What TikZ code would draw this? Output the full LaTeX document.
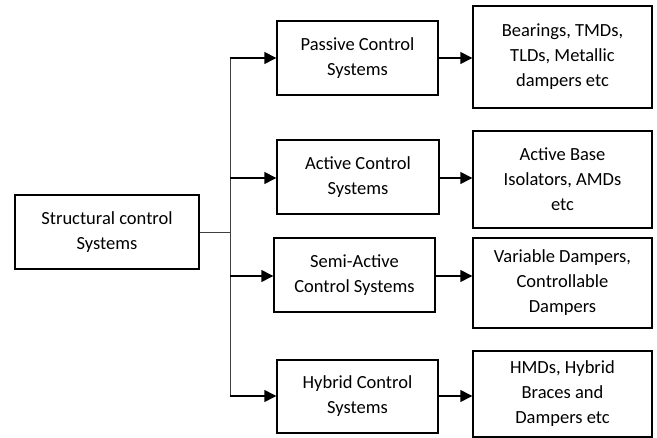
\documentclass[tikz,border=0pt]{standalone}
\usepackage{fontspec}
\setmainfont{Carlito}
\usetikzlibrary{arrows.meta}
\begin{document}
\begin{tikzpicture}[x=1pt,y=-1pt,
 box/.style={draw, line width=1.4pt, align=center, font=\fontsize{18.5}{25}\selectfont, inner sep=0pt},
 arr/.style={line width=1.4pt, -{Triangle[length=12pt,width=12pt]}},
 trunk/.style={line width=0.9pt, draw=black!75}]
\useasboundingbox (0,0) rectangle (657,438);
\node[box, minimum width=184, minimum height=74] (root) at (107,232) {Structural control\\Systems};
\node[box, minimum width=161, minimum height=74] (passive) at (357.5,58) {Passive Control\\Systems};
\node[box, minimum width=162, minimum height=74] (active) at (358,177) {Active Control\\Systems};
\node[box, minimum width=161, minimum height=74] (semi) at (354.5,275) {Semi-Active\\Control Systems};
\node[box, minimum width=161, minimum height=73] (hybrid) at (357.5,396.5) {Hybrid Control\\Systems};
\node[box, minimum width=179, minimum height=102] (bearings) at (562.5,57) {Bearings, TMDs,\\TLDs, Metallic\\dampers etc};
\node[box, minimum width=179, minimum height=97] (abase) at (562.5,179.5) {Active Base\\Isolators, AMDs\\etc};
\node[box, minimum width=179, minimum height=90] (variable) at (562.5,283) {Variable Dampers,\\Controllable\\Dampers};
\node[box, minimum width=179, minimum height=86] (hmds) at (562.5,394) {HMDs, Hybrid\\Braces and\\Dampers etc};
\coordinate (j0) at (230,232);
\coordinate (j1) at (230,58);
\coordinate (j2) at (230,178);
\coordinate (j3) at (230,276);
\coordinate (j4) at (230,396);
\draw[trunk] (root.east) -- (j0);
\draw[trunk] (j1) -- (j4);
\draw[arr] (j1) -- (j1 -| passive.west);
\draw[arr] (j2) -- (j2 -| active.west);
\draw[arr] (j3) -- (j3 -| semi.west);
\draw[arr] (j4) -- (j4 -| hybrid.west);
\draw[arr] (passive.east) -- (passive.east -| bearings.west);
\draw[arr] (j2 -| active.east) -- (j2 -| abase.west);
\draw[arr] (j3 -| semi.east) -- (j3 -| variable.west);
\draw[arr] (j4 -| hybrid.east) -- (j4 -| hmds.west);
\end{tikzpicture}
\end{document}
